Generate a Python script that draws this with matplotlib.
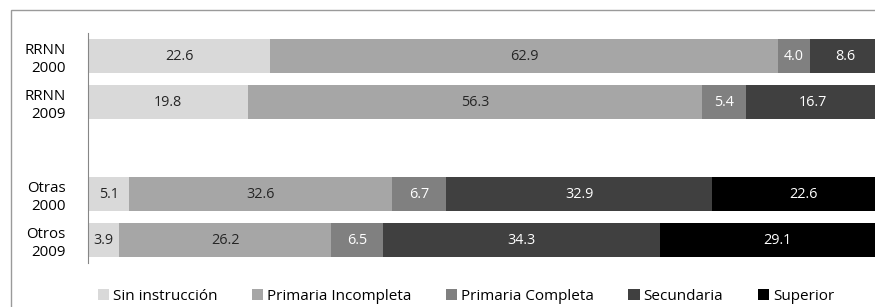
import matplotlib
matplotlib.use("Agg")
import matplotlib.pyplot as plt
from matplotlib.patches import Rectangle
import numpy as np

# Daten
grupos = ["RRNN\n2000", "RRNN\n2009", "", "Otras\n2000", "Otros\n2009"]
niveles = ["Sin instrucción", "Primaria Incompleta", "Primaria Completa",
           "Secundaria", "Superior"]
sin_instruccion = [22.6, 19.8, 0, 5.1, 3.9]
primaria_incompleta = [62.9, 56.3, 0, 32.6, 26.2]
primaria_completa = [4.0, 5.4, 0, 6.7, 6.5]
secundaria = [8.6, 16.7, 0, 32.9, 34.3]
superior = [1.9, 1.8, 0, 22.6, 29.1]

colores = ["#d9d9d9", "#a6a6a6", "#808080", "#404040", "#000000"]
color_texto = ["#262626", "#262626", "white", "white", "white"]

plt.rcParams["font.family"] = ["Open Sans", "DejaVu Sans"]

fig = plt.figure(figsize=(8.75, 3.07), dpi=100)
# Rahmen des Diagramms (rechts/unten abgeschnitten)
fig.patches.append(Rectangle((10.5 / 875, -0.1), 1.2, 1 - 10.5 / 307 + 0.1,
                             transform=fig.transFigure, fill=False,
                             edgecolor="#9a9a9a", linewidth=1.0))

ax = fig.add_axes([88 / 875, 44 / 307, 807 / 875, 230 / 307])

serien = [sin_instruccion, primaria_incompleta, primaria_completa, secundaria, superior]
y = np.arange(len(grupos))
links = np.zeros(len(grupos))
for i, werte in enumerate(serien):
    werte = np.array(werte)
    ax.barh(y, werte, left=links, height=0.74, color=colores[i],
            linewidth=0, label=niveles[i])
    for j, w in enumerate(werte):
        if w > 0:
            ax.text(links[j] + w / 2, y[j], f"{w:.1f}", ha="center", va="center",
                    fontsize=10.4, color=color_texto[i])
    links += werte

ax.set_xlim(0, 100)
ax.set_ylim(4.5, -0.5)
ax.set_yticks(y)
ax.set_yticklabels(grupos, fontsize=10.8, linespacing=1.25, ha="right")
ax.tick_params(axis="y", length=0, pad=16)
ax.set_xticks([])
for s in ["top", "right", "bottom"]:
    ax.spines[s].set_visible(False)
ax.spines["left"].set_color("#868686")

fig.legend(loc="center", bbox_to_anchor=(466 / 875, 1 - 296 / 307), ncol=5,
           frameon=False, fontsize=11, handlelength=0.75, handleheight=0.75,
           handletextpad=0.25, columnspacing=2.25)

fig.savefig("out.png", dpi=100)
